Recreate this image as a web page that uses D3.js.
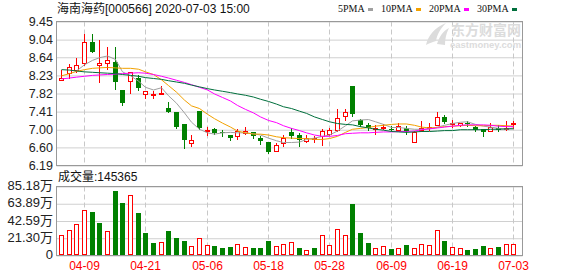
<!DOCTYPE html>
<html>
<head>
<meta charset="utf-8">
<script src="https://cdn.jsdelivr.net/npm/d3@7"></script>
<style>
  body { margin: 0; background: #fff; }
  text { font-family: "Liberation Sans", Arial, "Noto Sans CJK SC", sans-serif; }
</style>
</head>
<body>
<div class="chart"></div>
<script>
// daily k-line of 海南海药 with moving averages and volume

var dates = ["04-03","04-07","04-08","04-09","04-10","04-13","04-14","04-15","04-16","04-17",
             "04-20","04-21","04-22","04-23","04-24","04-27","04-28","04-29","04-30","05-06",
             "05-07","05-08","05-11","05-12","05-13","05-14","05-15","05-18","05-19","05-20",
             "05-21","05-22","05-25","05-26","05-27","05-28","05-29","06-01","06-02","06-03",
             "06-04","06-05","06-08","06-09","06-10","06-11","06-12","06-15","06-16","06-17",
             "06-18","06-19","06-22","06-23","06-24","06-29","06-30","07-01","07-02","07-03"];

var open  = [8.13,8.28,8.35,8.51,8.99,8.46,8.51,8.53,7.91,8.11,
             8.18,7.81,7.80,7.83,7.50,7.39,7.13,6.70,7.43,6.99,
             7.01,6.94,6.885,6.85,6.92,6.94,6.81,6.73,6.52,6.69,
             6.94,6.89,6.75,6.80,6.85,6.90,7.00,7.30,8.00,7.21,
             7.11,7.02,7.03,7.02,7.00,7.03,6.72,7.00,7.06,7.11,
             7.28,7.14,7.11,7.15,7.06,7.01,6.96,7.05,7.04,7.14];
var high  = [8.36,8.48,8.63,9.17,9.17,9.04,8.88,8.88,7.91,8.30,
             8.23,7.87,7.87,8.00,7.62,7.39,7.13,6.87,7.43,7.07,
             7.03,6.99,6.89,7.02,7.07,6.94,6.86,6.73,6.69,6.88,
             7.05,6.92,6.89,6.86,7.02,7.03,7.47,7.47,8.00,7.25,
             7.16,7.10,7.13,7.09,7.16,7.09,6.96,7.19,7.15,7.40,
             7.34,7.21,7.16,7.19,7.09,7.01,7.15,7.11,7.19,7.19];
var low   = [8.13,8.17,8.30,8.47,8.77,8.09,8.37,7.92,7.56,7.84,
             7.90,7.71,7.71,7.83,7.40,7.05,6.58,6.64,7.02,6.88,
             6.91,6.85,6.76,6.79,6.91,6.81,6.67,6.47,6.52,6.64,
             6.81,6.64,6.72,6.72,6.66,6.89,6.96,7.22,7.32,7.09,
             6.99,6.91,7.02,6.98,6.96,6.91,6.72,6.96,7.00,7.11,
             7.15,7.06,7.09,7.08,6.97,6.86,6.96,6.98,7.00,7.05];
var close = [8.18,8.42,8.47,8.99,8.77,8.52,8.58,8.09,7.60,8.30,
             7.94,7.87,7.81,7.84,7.41,7.07,6.77,6.76,7.03,7.00,
             6.92,6.93,6.82,6.98,6.98,6.85,6.75,6.49,6.66,6.81,
             6.86,6.77,6.82,6.81,6.98,7.00,7.26,7.39,7.35,7.10,
             7.03,7.03,7.07,7.01,7.09,6.96,6.94,7.05,7.07,7.28,
             7.17,7.15,7.16,7.13,7.00,6.94,7.06,7.00,7.05,7.15];

var ma5  = [null,null,8.33,8.47,8.57,8.63,8.67,8.59,8.31,8.22,
            8.10,7.96,7.90,7.95,7.77,7.60,7.38,7.17,7.01,6.93,
            6.90,6.93,6.94,6.93,6.93,6.91,6.88,6.81,6.75,6.71,
            6.71,6.72,6.78,6.81,6.85,6.88,6.97,7.09,7.20,7.22,
            7.23,7.18,7.12,7.05,7.05,7.03,7.01,7.01,7.02,7.06,
            7.10,7.14,7.17,7.18,7.12,7.08,7.06,7.03,7.01,7.04];
var ma10 = [8.22,8.27,8.32,8.36,8.39,8.40,8.41,8.40,8.39,8.39,
            8.37,8.31,8.25,8.13,8.00,7.85,7.67,7.54,7.48,7.35,
            7.25,7.15,7.06,6.97,6.93,6.90,6.90,6.88,6.84,6.82,
            6.81,6.80,6.80,6.78,6.78,6.80,6.85,6.94,7.01,7.03,
            7.05,7.08,7.10,7.12,7.13,7.13,7.10,7.06,7.04,7.05,
            7.07,7.08,7.09,7.10,7.09,7.09,7.10,7.10,7.09,7.08];
var ma20 = [8.15,8.17,8.19,8.21,8.23,8.24,8.25,8.26,8.27,8.28,
            8.29,8.28,8.25,8.21,8.17,8.12,8.07,8.02,7.96,7.90,
            7.81,7.73,7.65,7.55,7.46,7.38,7.29,7.21,7.16,7.09,
            7.03,6.98,6.93,6.88,6.85,6.85,6.87,6.91,6.92,6.93,
            6.93,6.94,6.95,6.95,6.96,6.96,6.97,7.00,7.02,7.04,
            7.06,7.08,7.10,7.11,7.11,7.11,7.10,7.08,7.07,7.07];
var ma30 = [8.36,8.35,8.33,8.31,8.30,8.29,8.28,8.27,8.25,8.23,
            8.21,8.18,8.16,8.14,8.11,8.08,8.05,8.01,7.97,7.93,
            7.90,7.87,7.84,7.81,7.78,7.74,7.69,7.64,7.58,7.52,
            7.48,7.42,7.37,7.29,7.23,7.18,7.14,7.12,7.11,7.07,
            7.04,7.01,6.99,6.96,6.95,6.94,6.95,6.96,6.96,6.97,
            6.98,6.98,7.00,7.00,7.00,7.00,7.01,7.01,7.02,7.02];

// volume in 万 shares, and whether the bar is drawn as an up bar
var volume = [24.7,30.9,38.4,56.0,53.9,40.5,29.7,80.2,64.3,74.8,
              53.0,27.9,15.0,17.1,30.1,21.3,17.5,12.1,22.1,13.4,
              12.1,8.8,10.0,14.6,10.9,8.8,8.8,17.5,12.1,14.6,
              16.3,8.8,6.3,8.8,24.7,12.5,32.2,24.7,63.9,27.6,
              15.0,9.6,12.1,7.5,9.6,12.5,9.6,14.6,13.4,30.9,
              17.5,10.9,9.6,6.3,7.5,11.3,9.6,10.0,14.6,14.5365];
var volumeUp = [1,1,1,1,0,0,1,0,0,1,0,0,0,1,0,0,0,1,1,1,0,0,0,1,1,0,0,0,1,1,
                1,0,1,0,1,1,1,1,0,0,0,1,1,0,1,0,1,1,1,1,0,1,1,0,0,0,1,0,1,1];

var priceTicks = [9.45,9.04,8.64,8.23,7.82,7.41,7.00,6.60,6.19];
var volumeTicks = [0,21.30,42.59,63.89,85.18];
var dateTicks = ["04-09","04-21","05-06","05-18","05-28","06-09","06-19","07-03"];

var maNames = ["5PMA","10PMA","20PMA","30PMA"];
var maColors = ["#a0a0a0","#f2a100","#ff00ff","#006f3c"];
var upColor = "#ff0000", downColor = "#008000";

window.onload = function() {
  var svg = d3.select(".chart").append("svg")
              .attr("width", 578)
              .attr("height", 276);

  var left = 56.5, right = 522.5;
  var pTop = 21.5, pBottom = 165.5;
  var vTop = 186.5, vBottom = 255.5;

  var x = d3.scaleBand()
            .domain(dates)
            .range([57, 517])
            .paddingInner(0.35)
            .paddingOuter(0.175);
  function cx(d) { return Math.round(x(d) + x.bandwidth() / 2); }

  var y = d3.scaleLinear()
            .domain([priceTicks[priceTicks.length - 1], priceTicks[0]])
            .range([pBottom, pTop]);
  var yv = d3.scaleLinear()
             .domain([0, volumeTicks[volumeTicks.length - 1]])
             .range([vBottom, vTop]);

  // horizontal gridlines
  svg.append("g")
     .attr("transform", "translate(" + left + ",0)")
     .call(d3.axisLeft(y).tickValues(priceTicks).tickSize(-(right - left)).tickFormat(""))
     .call(function(g) { g.select(".domain").remove(); })
     .selectAll("line").attr("stroke", "#d0d0d0");
  svg.append("g")
     .attr("transform", "translate(" + left + ",0)")
     .call(d3.axisLeft(yv).tickValues(volumeTicks).tickSize(-(right - left)).tickFormat(""))
     .call(function(g) { g.select(".domain").remove(); })
     .selectAll("line").attr("stroke", "#d0d0d0");

  // vertical dashed gridlines at the labelled dates
  [[pTop, pBottom], [vTop, vBottom]].forEach(function(p) {
    svg.append("g").selectAll("line")
       .data(dateTicks)
       .enter().append("line")
       .attr("x1", function(d) { return cx(d) + 0.5; })
       .attr("x2", function(d) { return cx(d) + 0.5; })
       .attr("y1", p[0])
       .attr("y2", p[1])
       .attr("stroke", "#c8c8c8")
       .attr("stroke-dasharray", "5,3");
  });

  // watermark
  var wm = svg.append("g").attr("fill", "#dcdcdc");
  wm.append("path")
    .attr("d", "M426,45 C428,36 434,28 446,23 C440,29 437,35 436,41 C433,42 429,43 426,45 Z M437,44 C439,37 443,31 449,28 C446,34 445,39 445,45 Z");
  wm.append("text")
    .attr("x", 451).attr("y", 35)
    .style("font-size", "14px").style("font-weight", "bold")
    .style("font-family", "'Noto Sans CJK SC', sans-serif")
    .text("东方财富网");
  wm.append("text")
    .attr("x", 450).attr("y", 48)
    .style("font-size", "9.5px").style("font-weight", "bold")
    .text("eastmoney.com");

  // panel borders
  svg.append("rect").attr("x", left).attr("y", pTop)
     .attr("width", right - left).attr("height", pBottom - pTop)
     .attr("fill", "none").attr("stroke", "#999");
  svg.append("rect").attr("x", left).attr("y", vTop)
     .attr("width", right - left).attr("height", vBottom - vTop)
     .attr("fill", "none").attr("stroke", "#999");

  // y labels
  svg.append("g")
     .attr("transform", "translate(" + 53 + ",0)")
     .call(d3.axisLeft(y).tickValues(priceTicks).tickSize(0).tickPadding(0).tickFormat(d3.format(".2f")))
     .call(function(g) { g.select(".domain").remove(); })
     .selectAll("text")
     .attr("fill", "#222")
     .style("font-size", "12.5px")
     .style("font-family", "'Liberation Sans', Arial, sans-serif");
  svg.append("g")
     .attr("transform", "translate(" + 53 + ",-1)")
     .call(d3.axisLeft(yv).tickValues(volumeTicks).tickSize(0).tickPadding(0)
              .tickFormat(function(d) { return d === 0 ? "0" : d3.format(".2f")(d) + "万"; }))
     .call(function(g) { g.select(".domain").remove(); })
     .selectAll("text")
     .attr("fill", "#222")
     .style("font-size", "13px")
     .style("font-family", "'Liberation Sans', 'Noto Sans CJK SC', sans-serif");

  // candles
  var candles = svg.append("g").attr("shape-rendering", "crispEdges");
  dates.forEach(function(d, i) {
    var c = cx(d);
    var up = close[i] >= open[i];
    candles.append("line")
           .attr("x1", c + 0.5).attr("x2", c + 0.5)
           .attr("y1", Math.round(y(high[i]))).attr("y2", Math.round(y(low[i])) + 1)
           .attr("stroke", up ? upColor : downColor);
    var yTop = Math.round(y(Math.max(open[i], close[i])));
    var yBot = Math.round(y(Math.min(open[i], close[i])));
    if (up) {
      candles.append("rect")
             .attr("x", c - 1.5).attr("y", yTop + 0.5)
             .attr("width", 4).attr("height", Math.max(1, yBot - yTop))
             .attr("fill", "#fff").attr("stroke", upColor);
    } else {
      candles.append("rect")
             .attr("x", c - 2).attr("y", yTop)
             .attr("width", 5).attr("height", Math.max(1, yBot - yTop))
             .attr("fill", downColor);
    }
  });

  // moving averages
  var mas = [ma5, ma10, ma20, ma30];
  mas.forEach(function(series, k) {
    var line = d3.line()
                 .defined(function(v) { return v !== null; })
                 .x(function(v, i) { return cx(dates[i]) + 0.5; })
                 .y(function(v) { return y(v); });
    svg.append("path")
       .datum(series)
       .attr("d", line)
       .attr("fill", "none")
       .attr("stroke", maColors[k])
       .attr("stroke-width", 1);
  });

  // volume bars
  var bars = svg.append("g").attr("shape-rendering", "crispEdges");
  dates.forEach(function(d, i) {
    var c = cx(d);
    var top = Math.round(yv(volume[i]));
    var bottom = Math.round(vBottom - 0.5);
    if (volumeUp[i]) {
      bars.append("rect")
          .attr("x", c - 1.5).attr("y", top + 0.5)
          .attr("width", 4).attr("height", bottom - top - 1)
          .attr("fill", "#fff").attr("stroke", upColor);
    } else {
      bars.append("rect")
          .attr("x", c - 2).attr("y", top)
          .attr("width", 5).attr("height", bottom - top)
          .attr("fill", downColor);
    }
  });

  // x labels
  svg.append("g").selectAll("text")
     .data(dateTicks)
     .enter().append("text")
     .attr("x", function(d) { return cx(d) + 0.5; })
     .attr("y", 270)
     .attr("text-anchor", "middle")
     .attr("fill", upColor)
     .style("font-size", "12px")
     .text(function(d) { return d; });

  // title and volume caption
  svg.append("text")
     .attr("x", 57).attr("y", 13)
     .style("font-size", "12px")
     .attr("fill", "#111")
     .text("海南海药[000566] 2020-07-03 15:00");
  svg.append("text")
     .attr("x", 58).attr("y", 181)
     .style("font-size", "12px")
     .attr("fill", "#111")
     .text("成交量:" + Math.round(volume[volume.length - 1] * 10000));

  // legend
  var lx = 338;
  maNames.forEach(function(name, k) {
    var t = svg.append("text")
               .attr("x", lx).attr("y", 12)
               .style("font-size", "10px")
               .style("font-family", "'Liberation Serif', serif")
               .attr("fill", "#111")
               .text(name);
    var w = t.node().getComputedTextLength();
    svg.append("rect")
       .attr("x", Math.round(lx + w + 3)).attr("y", 8)
       .attr("width", 5).attr("height", 3)
       .attr("fill", maColors[k]);
    lx = Math.round(lx + w + 3) + 5 + 8;
  });
};
</script>
</body>
</html>
